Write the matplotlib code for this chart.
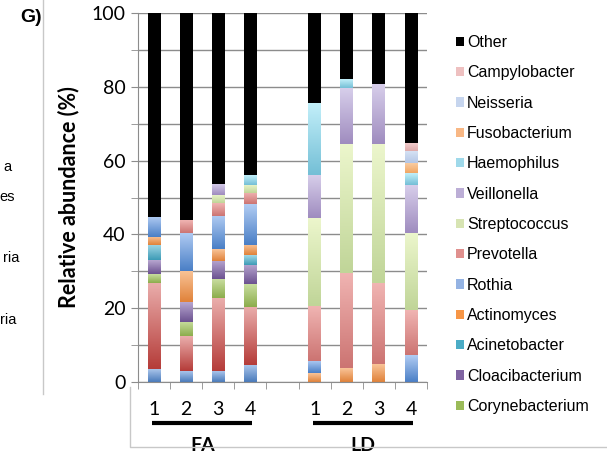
import numpy as np
import matplotlib.pyplot as plt
import matplotlib.colors as mcolors
from matplotlib.patches import Patch
from matplotlib.lines import Line2D
import matplotlib.transforms as mtransforms

# Data, series listed bottom -> top of the stack
samples = ["1", "2", "3", "4", "", "1", "2", "3", "4"]   # 5th slot is the empty gap
groups = ["FA", "LD"]

series = ["Series 1", "Series 2", "Corynebacterium", "Cloacibacterium",
          "Acinetobacter", "Actinomyces", "Rothia", "Prevotella",
          "Streptococcus", "Veillonella", "Haemophilus", "Fusobacterium",
          "Neisseria", "Campylobacter", "Other"]
# first two series are cut off from the legend in the original
in_legend = [False, False] + [True] * 13

s1 = [3.5, 2.9, 2.9, 4.6, 0, 0, 0, 0, 0]
s2 = [23.4, 9.4, 19.8, 15.8, 0, 0, 0, 0, 0]
corynebacterium = [2.3, 3.9, 5.1, 6.0, 0, 0, 0, 0, 0]
cloacibacterium = [3.7, 5.3, 5.0, 5.3, 0, 0, 0, 0, 0]
acinetobacter = [4.1, 0, 0, 2.7, 0, 0, 0, 0, 0]
actinomyces = [2.2, 8.5, 3.2, 2.8, 0, 2.3, 3.6, 4.8, 0]
rothia = [5.6, 10.4, 9.0, 11.0, 0, 3.4, 0, 0, 7.3]
prevotella = [0, 3.4, 3.4, 3.1, 0, 14.8, 25.8, 21.9, 12.2]
streptococcus = [0, 0, 2.2, 2.2, 0, 23.8, 35.0, 37.7, 20.8]
veillonella = [0, 0, 3.0, 0, 0, 11.8, 15.4, 16.4, 13.2]
haemophilus = [0, 0, 0, 2.7, 0, 19.5, 2.3, 0, 3.2]
fusobacterium = [0, 0, 0, 0, 0, 0, 0, 0, 2.8]
neisseria = [0, 0, 0, 0, 0, 0, 0, 0, 3.1]
campylobacter = [0, 0, 0, 0, 0, 0, 0, 0, 2.3]
other = [55.2, 56.2, 46.4, 43.8, 0, 24.4, 17.9, 19.2, 35.1]

values = [s1, s2, corynebacterium, cloacibacterium, acinetobacter, actinomyces,
          rothia, prevotella, streptococcus, veillonella, haemophilus,
          fusobacterium, neisseria, campylobacter, other]

# gradient colours (top, bottom) like the Excel fill
grad = [("#a9c4ea", "#4a7bbb"), ("#eaaeac", "#b53c39"), ("#c8dd9f", "#8cad4c"),
        ("#b7a6d0", "#6c5290"), ("#a2d8e7", "#3d9bb6"), ("#f9c498", "#e0823a"),
        ("#b1ccf3", "#4a7fc6"), ("#f0b4b2", "#cc7472"), ("#ecf6cc", "#c0d598"),
        ("#d8cfeb", "#9f8cbf"), ("#c2eff9", "#74bfd6"), ("#fad0a8", "#f0a664"),
        ("#d6e2f4", "#b3c6e6"), ("#f4d0d0", "#deaaaa"), ("#000000", "#000000")]
legend_col = ["#4f81bd", "#c0504d", "#9bbb59", "#8064a2", "#4bacc6", "#f79646",
              "#94b3e3", "#e0908e", "#d7e4b3", "#bcaed6", "#9fd9ea", "#f8b784",
              "#c6d5ee", "#eec0c0", "#000000"]

fig = plt.figure(figsize=(6.07, 4.57), dpi=100)
ax = fig.add_axes([138/607, 1-381.7/457, 289/607, 368.4/457])

x = np.arange(len(samples))
bottom = np.zeros(len(samples))
for vals, (ctop, cbot) in zip(values, grad):
    vals = np.array(vals, dtype=float)
    bars = ax.bar(x, vals, width=0.4, bottom=bottom, color="none",
                  edgecolor="none", zorder=2)
    c0 = np.array(mcolors.to_rgb(cbot))
    c1 = np.array(mcolors.to_rgb(ctop))
    t = np.linspace(0, 1, 64)[:, None, None]
    img = c0 + (c1 - c0) * t
    for b in bars:
        if b.get_height() <= 0:
            continue
        ax.imshow(img, extent=(b.get_x(), b.get_x() + b.get_width(),
                               b.get_y(), b.get_y() + b.get_height()),
                  origin="lower", aspect="auto", interpolation="bilinear",
                  zorder=2)
    bottom += vals

ax.set_xlim(-0.5, len(samples) - 0.5)
ax.set_ylim(0, 100)
ax.set_yticks(np.arange(0, 101, 20))
ax.set_yticks(np.arange(0, 101, 10), minor=True)
ax.yaxis.grid(True, which="both", color="#8c8c8c", linewidth=1.0, zorder=0)
ax.set_axisbelow(True)
ax.set_xticks(x)
ax.set_xticklabels(samples)
ax.set_xticks(np.arange(-0.5, len(samples)), minor=True)
ax.tick_params(axis="x", which="major", length=0, pad=14, labelsize=14)
ax.tick_params(axis="x", which="minor", length=5, color="#8c8c8c")
ax.tick_params(axis="y", which="both", length=5, color="#8c8c8c",
               labelsize=14, pad=4)
for lab in ax.get_xticklabels() + ax.get_yticklabels():
    lab.set_fontfamily("Lato")
for s in ["top", "right"]:
    ax.spines[s].set_visible(False)
for s in ["left", "bottom"]:
    ax.spines[s].set_color("#8c8c8c")

ax.set_ylabel("Relative abundance (%)", fontsize=15.5, fontweight="bold",
              fontfamily="Lato", labelpad=9)

# group bars + labels under the axis
trans = mtransforms.blended_transform_factory(ax.transData, ax.transAxes)
for g, c in zip(groups, [1.5, 6.5]):
    ax.plot([c - 1.55, c + 1.55], [-0.112, -0.112], color="black", lw=3,
            transform=trans, clip_on=False, solid_capstyle="butt")
    ax.text(c, -0.172, g, transform=trans, ha="center", va="center",
            fontsize=14, fontweight="bold", fontfamily="Lato")

# legend (first two series are hidden in the original)
handles = [Patch(facecolor=legend_col[i], edgecolor="none", label=series[i])
           for i in range(len(series)) if in_legend[i]][::-1]
fig.legend(handles=handles, loc="upper left",
           bbox_to_anchor=(456/607, 1-35/457), frameon=False,
           prop={"family": "Liberation Sans", "size": 11.5},
           handlelength=0.5, handleheight=0.5, handletextpad=0.2,
           labelspacing=0.96, borderpad=0, borderaxespad=0)

fig.text(42/607, 1-17/457, "G)", ha="right", va="center", fontsize=14,
         fontweight="bold", fontfamily="Liberation Sans")

# fragments of the neighbouring panel's legend and frames
for txt, xe, ye in [("a", 11, 167), ("es", 15, 197), ("ria", 19, 258),
                    ("ria", 16, 320)]:
    fig.text(xe/607, 1-ye/457, txt, ha="right", va="center", fontsize=10.5,
             fontfamily="Liberation Sans")
fig.add_artist(Line2D([43/607, 43/607], [1, 1-394/457], color="#c8c8c8", lw=1))
fig.add_artist(Line2D([130/607, 130/607, 1], [1-387/457, 1-447/457, 1-447/457],
                      color="#c8c8c8", lw=1))

fig.savefig("out.png", dpi=100)
